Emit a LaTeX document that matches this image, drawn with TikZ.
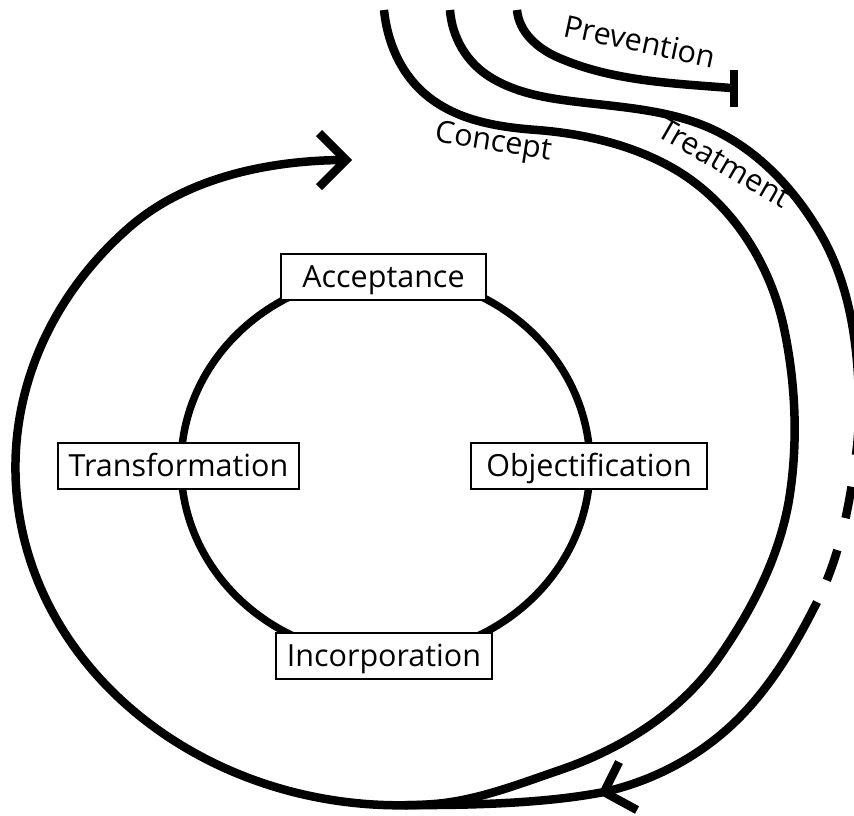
\documentclass[tikz,border=0pt]{standalone}
\usepackage{fontspec}
\setmainfont{Open Sans}
\begin{document}
\begin{tikzpicture}[x=1pt,y=-1pt,
  stage/.style={draw, line width=1.8pt, fill=white, inner sep=0pt,
    minimum height=46pt, text height=21.6pt, text depth=0pt,
    font=\fontsize{30.5}{36}\selectfont},
  lbl/.style={inner sep=0pt, anchor=base, font=\fontsize{30.5}{36}\selectfont},
  flow/.style={line width=8.5pt},
  ring/.style={line width=7.5pt},
  barb/.style={line width=8.5pt, line join=miter}]
\useasboundingbox (0,0) rectangle (854,815);
\clip (0,0) rectangle (854,815);

% inner cycle
\draw[ring] (385.5,465.5) ellipse [x radius=204.5, y radius=191];
\node[stage, minimum width=205pt] (acc) at (383.5,277) {Acceptance};
\node[stage, minimum width=241pt] (tra) at (178.5,466) {Transformation};
\node[stage, minimum width=236pt] (obj) at (589,466) {Objectification};
\node[stage, minimum width=216pt] (inc) at (384,656) {Incorporation};

% concept spiral
\coordinate (cA) at (384,10);
\coordinate (tipA) at (346,160);
\coordinate (bA1) at (319,133);
\coordinate (bA2) at (319,187);
\draw[flow] (cA)
  .. controls (388,48) and (405,82.3) .. (437,103)
  .. controls (466,122) and (502,127.4) .. (537,130)
  .. controls (589,134) and (644,147.6) .. (687,177)
  .. controls (739,213) and (773,271) .. (785,333)
  .. controls (796,388) and (798,445) .. (789,500)
  .. controls (779,558) and (751,612) .. (717,660)
  .. controls (679,713) and (621.5,749) .. (560,770)
  .. controls (519,784) and (477,800.6) .. (434,804)
  arc[start angle=85, end angle=225, x radius=385, y radius=338]
  .. controls (186,177) and (271,160) .. (tipA);
\draw[barb] (bA1) -- (tipA) -- (bA2);

% treatment
\coordinate (tA) at (450,10);
\coordinate (tDash) at (856,455);
\coordinate (tSolid) at (817,602);
\coordinate (tipB) at (604,792);
\coordinate (tEnd) at (405,805);
\coordinate (bB1) at (619,762);
\coordinate (bB2) at (637,810);
\draw[flow] (tA)
  .. controls (452,37.5) and (466.7,62.5) .. (490,77)
  .. controls (519,95) and (553,99) .. (587,103)
  .. controls (632,108) and (680,112) .. (720,133)
  .. controls (762.5,155) and (795.7,191.6) .. (820,233)
  .. controls (849.3,283) and (857.8,342) .. (859,400)
  .. controls (859.4,418.5) and (858.3,436.6) .. (tDash);
\draw[flow, dash pattern=on 0pt off 32pt on 32pt off 33pt on 32pt off 100pt]
  (tDash) .. controls (849.7,505.6) and (839.8,556.4) .. (tSolid);
\draw[flow] (tSolid)
  .. controls (795.8,644.5) and (770.8,686.7) .. (737,720)
  .. controls (700.3,756.1) and (654,780.7) .. (tipB)
  .. controls (550,802.5) and (480,805.5) .. (tEnd);
\draw[barb] (bB1) -- (tipB) -- (bB2);

% prevention
\coordinate (pA) at (517,10);
\coordinate (pEnd) at (731,88);
\coordinate (barT) at (734,70);
\coordinate (barB) at (734,107);
\draw[flow] (pA)
  .. controls (519,32) and (537,48) .. (557,57)
  .. controls (611,81) and (672,83.3) .. (pEnd);
\draw[flow] (barT) -- (barB);

% labels
\node[lbl, rotate=-9] (concept) at (492,151) {Concept};
\node[lbl, rotate=-30] (treat) at (719,172) {Treatment};
\node[lbl, rotate=-12] (prev) at (638,52) {Prevention};
\end{tikzpicture}
\end{document}
